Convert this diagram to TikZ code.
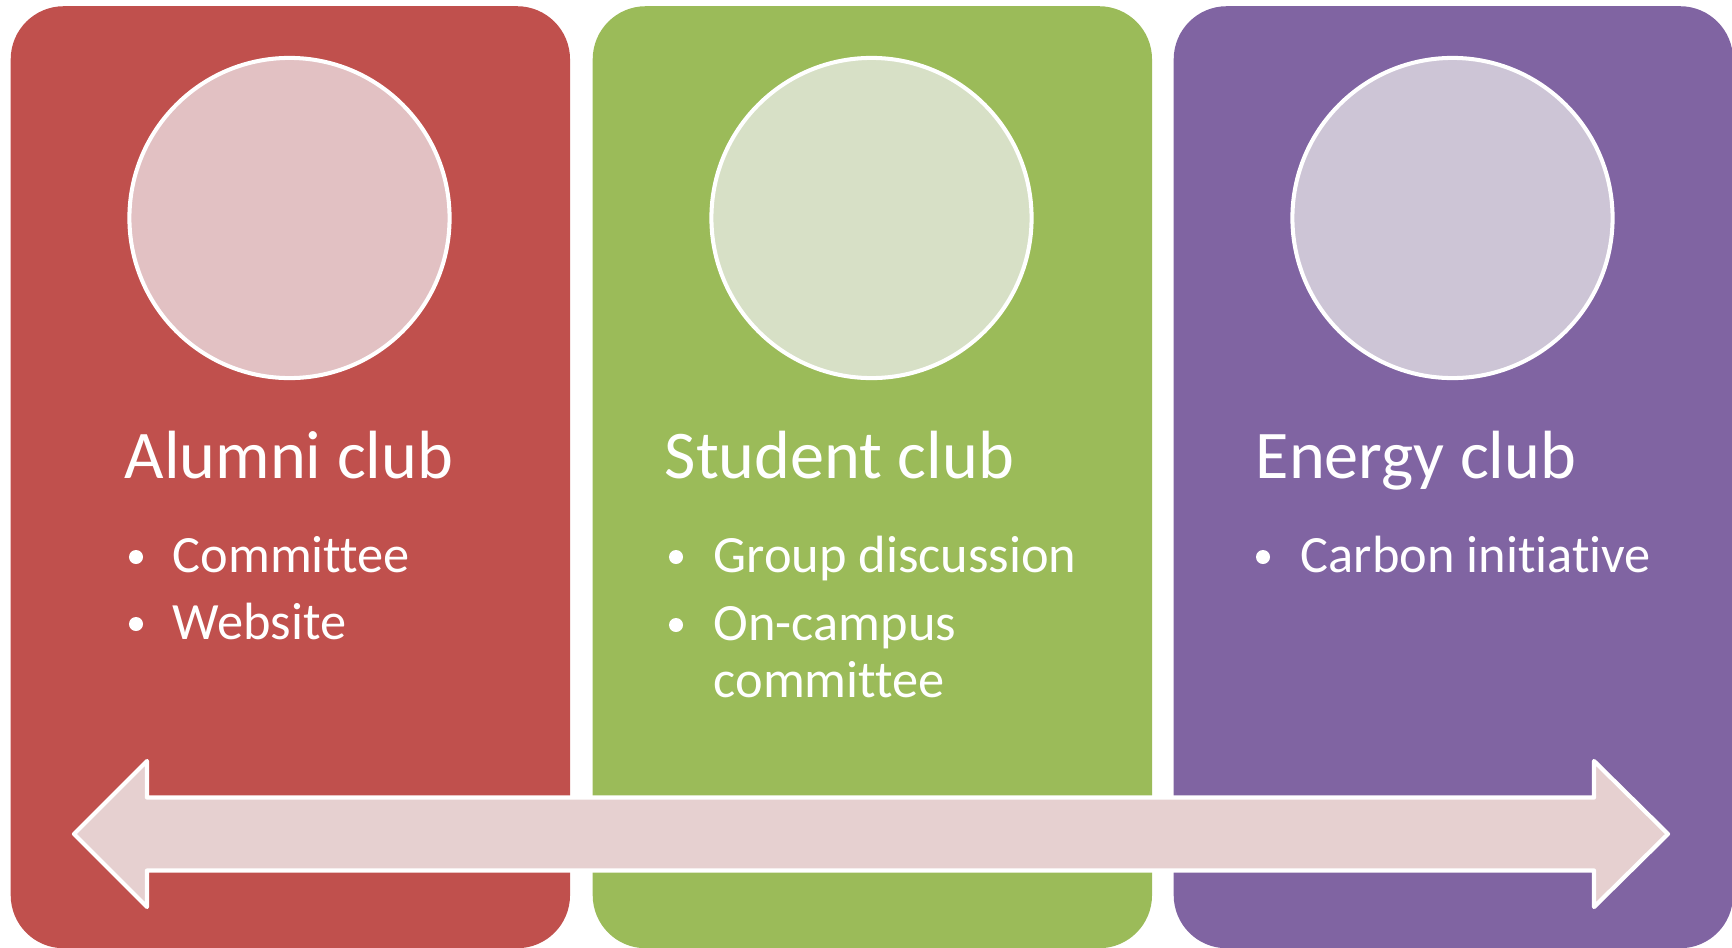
\documentclass[tikz,border=0pt]{standalone}
\usepackage{fontspec}
\setmainfont[Ligatures=NoCommon]{Carlito}
\definecolor{rojo}{HTML}{C0504D}
\definecolor{verde}{HTML}{9BBB59}
\definecolor{morado}{HTML}{8064A2}
\definecolor{rojoclaro}{HTML}{E2C1C3}
\definecolor{verdeclaro}{HTML}{D7E0C6}
\definecolor{moradoclaro}{HTML}{CDC5D6}
\definecolor{rosa}{HTML}{E6D0D0}
\begin{document}
\begin{tikzpicture}[x=0.01cm,y=-0.01cm,
  panel/.style={rounded corners=0.53cm, minimum width=5.59cm, minimum height=9.415cm, inner sep=0pt, anchor=north west},
  disco/.style={circle, draw=white, line width=1.15pt, minimum size=3.2cm, inner sep=0pt},
  titulo/.style={anchor=base west, text=white, inner sep=0pt, font=\fontsize{19.4}{23}\selectfont},
  punto/.style={circle, fill=white, minimum size=0.14cm, inner sep=0pt},
  vineta/.style={anchor=base west, text=white, inner sep=0pt, align=left, font=\fontsize{14.9}{16.2}\selectfont}
]
\useasboundingbox (0,0) rectangle (1732,948);

% Dibuja los paneles
\node[panel, fill=rojo] (alumni) at (10,5.5) {};
\node[panel, fill=verde] (student) at (592,5.5) {};
\node[panel, fill=morado] (energy) at (1173,5.5) {};

% Dibuja los circulos
\node[disco, fill=rojoclaro] (alumnidisco) at (289.5,218) {};
\node[disco, fill=verdeclaro] (studentdisco) at (871.5,218) {};
\node[disco, fill=moradoclaro] (energydisco) at (1452.5,218) {};

% Titulos
\node[titulo] (alumnititulo) at (124,478) {Alumni club};
\node[titulo] (studenttitulo) at (664,478) {Student club};
\node[titulo] (energytitulo) at (1255,478) {Energy club};

% Vinetas
\node[punto] (p1) at (136,557) {};
\node[vineta] (committee) at (172,572) {Committee};
\node[punto] (p2) at (136,624) {};
\node[vineta] (website) at (172,639) {Website};

\node[punto] (p3) at (676,557) {};
\node[vineta] (group) at (713,572) {Group discussion};
\node[punto] (p4) at (676,625) {};
\node[vineta] (oncampus) at (713,697) {On-campus\\committee};

\node[punto] (p5) at (1263,557) {};
\node[vineta] (carbon) at (1300,572) {Carbon initiative};

% Dibuja la flecha doble
\draw[white, line width=1.2pt, fill=rosa, line join=round]
  (74,834) -- (147,761) -- (147,797.5) -- (1594,797.5) -- (1594,761)
  -- (1668,834) -- (1594,907) -- (1594,870.5) -- (147,870.5) -- (147,907) -- cycle;

\end{tikzpicture}
\end{document}
